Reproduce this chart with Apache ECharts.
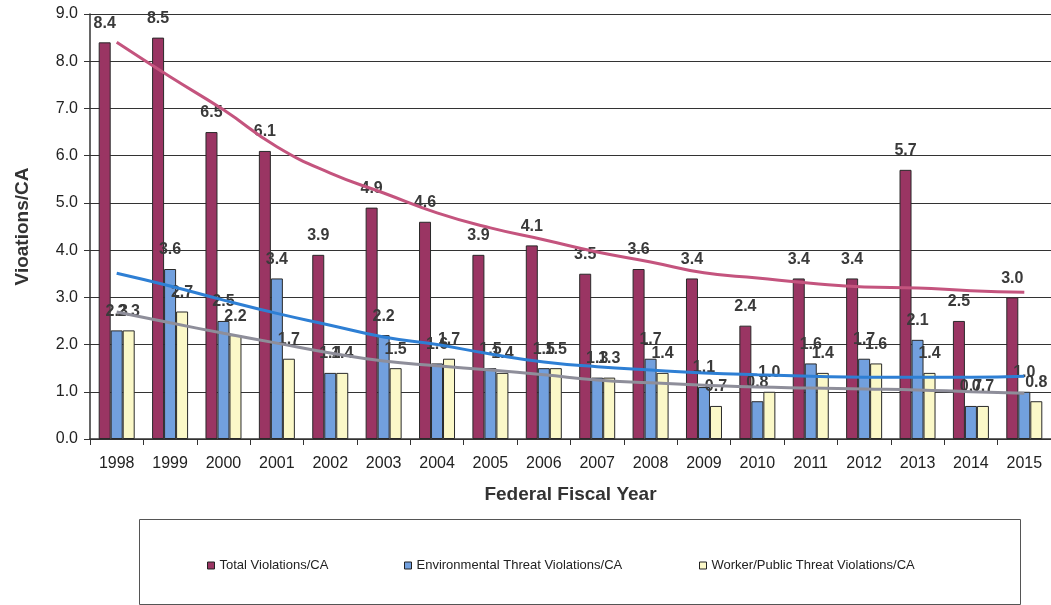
<!DOCTYPE html>
<html><head><meta charset="utf-8">
<script src="https://cdn.jsdelivr.net/npm/echarts@6/dist/echarts.min.js"></script>
<style>html,body{margin:0;padding:0;background:#fff}#c{width:1051px;height:605px}</style>
</head><body><div id="c"></div>
<script>
const years = ['1998','1999','2000','2001','2002','2003','2004','2005','2006','2007','2008','2009','2010','2011','2012','2013','2014','2015'];
const totalViol = [8.4,8.5,6.5,6.1,3.9,4.9,4.6,3.9,4.1,3.5,3.6,3.4,2.4,3.4,3.4,5.7,2.5,3.0];
const envViol = [2.3,3.6,2.5,3.4,1.4,2.2,1.6,1.5,1.5,1.3,1.7,1.1,0.8,1.6,1.7,2.1,0.7,1.0];
const workerViol = [2.3,2.7,2.2,1.7,1.4,1.5,1.7,1.4,1.5,1.3,1.4,0.7,1.0,1.4,1.6,1.4,0.7,0.8];
const totalTrend = [8.4,7.67,6.97,6.19,5.63,5.21,4.79,4.47,4.22,3.96,3.75,3.52,3.41,3.30,3.22,3.20,3.14,3.11];
const envTrend = [3.51,3.24,2.94,2.66,2.41,2.16,2.0,1.80,1.63,1.53,1.46,1.40,1.36,1.33,1.31,1.31,1.31,1.33];
const workerTrend = [2.69,2.46,2.24,2.03,1.82,1.65,1.55,1.46,1.36,1.25,1.19,1.14,1.10,1.08,1.06,1.04,1.00,0.97];
const seriesNames = ['Total Violations/CA','Environmental Threat Violations/CA','Worker/Public Threat Violations/CA'];

const FONT = 'Liberation Sans, Arial, sans-serif';
const chart = echarts.init(document.getElementById('c'));
const lbl = {show:true, position:'top', distance:11, fontFamily:FONT, fontSize:16, fontWeight:'bold', color:'#3a3a3a',
  formatter: p => p.value.toFixed(1)};
function bar(name, data, color){
  return {name, type:'bar', data, barWidth:12, barGap:'0%',
    itemStyle:{color, borderColor:'#2a2a2a', borderWidth:1}, label:lbl, z:2};
}
function trend(data, color){
  return {type:'line', data, smooth:true, symbol:'none', silent:true, z:3,
    lineStyle:{color, width:3}};
}
const legendBase = {orient:'horizontal', top:554, itemWidth:7, itemHeight:7, icon:'rect',
  textStyle:{fontFamily:'Liberation Sans Narrow, Arial Narrow, '+FONT, fontSize:13, color:'#222'},
  itemStyle:{borderColor:'#222', borderWidth:1}};
chart.setOption({
  animation:false,
  backgroundColor:'#fff',
  grid:{left:90, right:-4, top:14, bottom:166},
  legend:[
    Object.assign({left:202, data:[seriesNames[0]]}, legendBase),
    Object.assign({left:399, data:[seriesNames[1]]}, legendBase),
    Object.assign({left:694, data:[seriesNames[2]]}, legendBase)
  ],
  graphic:[{type:'rect', left:137, top:517, shape:{width:881, height:85},
    style:{fill:'none', stroke:'#555', lineWidth:1}}],
  xAxis:{type:'category', data:years,
    name:'Federal Fiscal Year', nameLocation:'middle', nameGap:46,
    nameTextStyle:{fontFamily:FONT, fontSize:19, fontWeight:'bold', color:'#333'},
    axisLine:{lineStyle:{color:'#333', width:1.5}},
    axisTick:{show:true, length:6, lineStyle:{color:'#333'}},
    axisLabel:{fontFamily:FONT, fontSize:16, color:'#222', margin:17}},
  yAxis:{type:'value', min:0, max:9, interval:1,
    name:'Vioations/CA', nameLocation:'middle', nameGap:58,
    nameTextStyle:{fontFamily:FONT, fontSize:19, fontWeight:'bold', color:'#333'},
    axisLine:{show:true, lineStyle:{color:'#333', width:1.5}},
    axisTick:{show:true, length:6, lineStyle:{color:'#333'}},
    splitLine:{lineStyle:{color:'#333', width:1.2}},
    axisLabel:{fontFamily:FONT, fontSize:16, color:'#222', margin:12, formatter:v=>v.toFixed(1)}},
  series:[
    bar(seriesNames[0], totalViol, '#9a3563'),
    bar(seriesNames[1], envViol, '#72a0de'),
    bar(seriesNames[2], workerViol, '#fbf8c8'),
    trend(totalTrend, '#c4547e'),
    trend(envTrend, '#2e7fd4'),
    trend(workerTrend, '#8e8e9a')
  ]
});
</script></body></html>
